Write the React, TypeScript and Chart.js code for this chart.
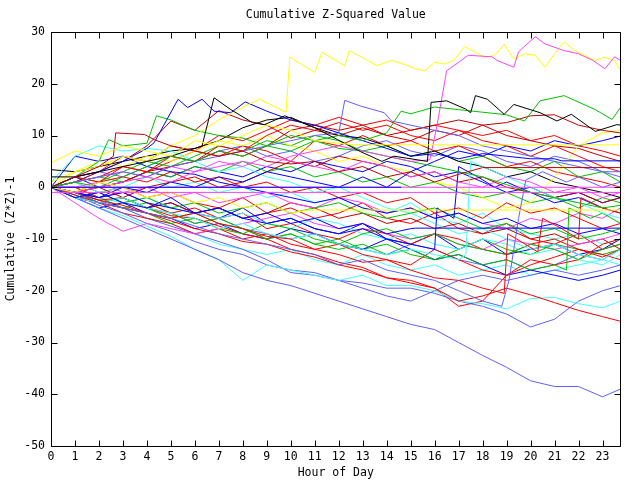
import React, { useEffect, useRef } from "react";
import { Chart, registerables } from "chart.js";

Chart.register(...registerables);

// ---------- axis / text ----------
const chartTitle = "Cumulative Z-Squared Value";
const xTitle = "Hour of Day";
const yTitle = "Cumulative (Z*Z)-1";
const xTickValues = [0, 1, 2, 3, 4, 5, 6, 7, 8, 9, 10, 11, 12, 13, 14, 15, 16, 17, 18, 19, 20, 21, 22, 23];
const yTickValues = [-50, -40, -30, -20, -10, 0, 10, 20, 30];
const xMin = 0;
const xMax = 23.75;
const yMin = -50;
const yMax = 30;

// shared hourly grid
const hours = [0, 1, 2, 3, 4, 5, 6, 7, 8, 9, 10, 11, 12, 13, 14, 15, 16, 17, 18, 19, 20, 21, 22, 23, 23.75];

// ---------- series with irregular sample times ----------
const yellowTopX = [0, 1, 2, 3, 4, 5, 6, 7, 8, 8.7, 9.8, 9.96, 11, 11.3, 12.25, 12.45, 13.6, 14.2, 14.6, 15.2, 15.6, 16, 16.4, 16.8, 17.25, 17.7, 18.1, 18.5, 18.9, 19.3, 19.75, 20.2, 20.6, 21, 21.4, 21.85, 22.25, 22.65, 23.1, 23.5, 23.75];
const yellowTopY = [1, 3, 4, 6, 5, 8, 10, 13, 15.5, 17, 14.5, 25.1, 22.2, 26.1, 23.5, 26.4, 23.5, 24.5, 24, 22.9, 22.5, 24.2, 23.8, 24.5, 27.2, 26.1, 25.1, 25.5, 27.6, 24.8, 25.8, 25.5, 23.2, 25.8, 28.1, 26.4, 25.5, 24.5, 25.1, 24.5, 22.5];

const magentaTopX = [0, 1, 2, 3, 4, 5, 6, 7, 8, 9, 10, 11, 12, 13, 14, 15, 15.8, 16.1, 16.5, 17.4, 18.4, 18.6, 19.3, 19.5, 20.2, 20.6, 21.4, 22, 22.6, 23.1, 23.5, 23.75];
const magentaTopY = [0, -1, 0, 1, 2, 1, 3, 4, 5, 4, 6, 7, 8, 7, 6, 5, 5.3, 12, 22.5, 25.5, 25.2, 24.5, 23.2, 26.2, 29.1, 27.7, 26.4, 25.8, 24.5, 22.9, 25.2, 24.5];

const blackTopX = [0, 1, 2, 3, 4, 5, 6, 6.3, 6.8, 7.5, 8.4, 8.9, 9.75, 11, 11.95, 12.9, 13.8, 14.3, 15.7, 15.85, 16.5, 17.3, 17.5, 17.7, 18.2, 18.9, 19.3, 20.4, 21.1, 21.7, 22.7, 23.6, 23.75];
const blackTopY = [2, 2, 3, 4, 5, 6, 7.5, 8, 17.3, 15, 12.5, 12.1, 13.8, 11.5, 9.2, 6.9, 5, 6, 5, 16.4, 16.7, 15.1, 14.4, 17.7, 17, 14.1, 16, 14.4, 12.8, 14.1, 10.8, 12.1, 12];

const blueHighX = [0, 1, 2, 3, 4, 4.3, 5.3, 5.7, 6.3, 6.8, 7.5, 8.1, 9, 10, 11, 12, 13, 14, 15, 16, 17, 18, 19, 20, 21, 21.3, 23.75];
const blueHighY = [0, 2, 3, 5, 7.5, 8.6, 17, 15.4, 17, 14.7, 14.4, 16.5, 14.7, 13, 12, 10.5, 9, 7.5, 6, 6.5, 5.5, 6.5, 6, 5.5, 5.5, 5.1, 5.1];

const greenTopX = [0, 1, 2, 3, 4, 5, 6, 7, 8, 9, 10, 11, 12, 13, 14, 14.6, 15, 16, 17, 18, 19, 19.75, 20.4, 21.4, 22.7, 23.4, 23.75];
const greenTopY = [0, 1, 0, 2, 4, 6, 5, 7, 6, 8, 7, 9, 10, 9, 10.5, 14.7, 14.2, 15.5, 15, 14.5, 14, 12.8, 16.7, 17.7, 15, 13.1, 15.4];

const greenEarlyX = [0, 1, 2, 2.4, 3, 4, 4.4, 5, 6, 7, 8, 9, 10, 11, 12, 13, 14, 15, 16, 17, 18, 19, 20, 21, 22, 23, 23.75];
const greenEarlyY = [0, 2, 5, 9.2, 8, 8.5, 13.8, 13, 11, 10, 9.5, 8, 10, 9, 7.5, 7, 6, 5, 4, 3, 2, 0.5, -1, -2, -3, -4, -3.5];

const darkRedFlatX = [0, 1, 2, 2.6, 2.7, 3.9, 4.3, 5, 6, 7, 8, 9, 10, 11, 12, 13, 14, 15, 16, 17, 18, 23.75];
const darkRedFlatY = [0, 2, 4, 6, 10.5, 10.2, 9.2, 8, 7, 6, 7, 5, 4.5, 5, 3, 4, 2, 3, 1, 2.5, 3.8, 3.8];

const slateHighX = [0, 1, 2, 3, 4, 5, 6, 7, 8, 9, 10, 11, 12, 12.25, 12.9, 13.9, 14.2, 15, 16, 17, 18, 19, 20, 21, 22, 23, 23.75];
const slateHighY = [0, 1, 2, 3, 2, 4, 5, 6, 7, 8, 9, 10, 10.5, 16.8, 15.7, 14.4, 12.8, 12, 11, 10, 8, 7, 6, 5, 4, 3, 3];

const slateJumpX = [0, 1, 2, 3, 4, 5, 6, 7, 8, 9, 10, 11, 12, 13, 14, 15, 16, 17, 18, 18.8, 19.1, 19.5, 19.8, 20.5, 21.5, 22, 23, 23.75];
const slateJumpY = [0, -1, -3, -4, -5, -6, -7.5, -9, -10, -11, -12, -13, -15, -14, -16, -17, -18, -20, -22, -23, -18, -6, 1.4, 3, 1, 2, 0, 1];

const redJumpX = [0, 1, 2, 3, 4, 5, 6, 7, 8, 9, 10, 11, 12, 13, 14, 15, 16, 17, 18, 18.9, 19.05, 19.6, 20.3, 20.5, 21.3, 22, 22.1, 23, 23.75];
const redJumpY = [0, -1, -2.5, -3.5, -5, -6, -5, -7, -8, -9.5, -10, -12, -13, -14.5, -14, -16, -17.5, -18, -19.5, -20.5, -9, -10.5, -12.5, -6, -8, -10, -2, -4, -5];
const blueJumpX = [0, 1, 2, 3, 4, 5, 6, 7, 8, 9, 10, 11, 12, 13, 14, 15, 16, 16.1, 16.8, 17, 17.8, 18.5, 19, 20, 21, 22, 23, 23.75];
const blueJumpY = [0, -1, -2, -1, -3, -4, -5, -4, -6, -7, -6, -8, -9, -8, -10, -11, -12, -4, -6, 4, 2, 0, 1, -1, -3, -2, -4, -5];
const cyanJumpX = [0, 1, 2, 3, 4, 5, 6, 7, 8, 9, 10, 11, 12, 13, 14, 15, 16, 17, 17.3, 17.5, 18, 19, 20, 21, 22, 23, 23.75];
const cyanJumpY = [0, -2, -3, -2, -4, -5, -6, -8, -7, -9, -10, -9, -11, -12, -13, -12, -13, -14, -13, 5, 4, 2, 0, -2, -3, -5, -6];
const greenJumpX = [0, 1, 2, 3, 4, 5, 6, 7, 8, 9, 10, 11, 12, 13, 14, 15, 16, 17, 18, 19, 20, 21, 21.5, 21.6, 22.5, 23, 23.75];
const greenJumpY = [0, -1, -3, -2, -4, -6, -5, -7, -8, -10, -9, -11, -12, -11, -13, -12, -14, -13, -15, -14, -16, -15, -16, -4, -6, -5, -7];

const blueZeroX = [0, 14.6];
const blueZeroY = [0, 0];
const magentaZeroX = [0, 23.75];
const magentaZeroY = [0, 0];
const magentaMinusOneX = [0, 23.75];
const magentaMinusOneY = [-1, -1];

const yellowFlatHighX = [0, 1, 2, 3, 4, 5, 6, 7, 8, 9, 10, 11, 12, 12.7, 23.75];
const yellowFlatHighY = [4.7, 7, 6, 8, 7, 6, 9, 8, 10, 12, 11, 9, 8.5, 8.2, 8.2];
const yellowFlatLowX = [0, 1, 2, 3, 4, 5, 6, 7, 8, 9, 10, 10.7, 23.75];
const yellowFlatLowY = [0, -1, 1, 0, -2, -1, -3, -2, -4, -3, -5, -4.4, -4.4];
const blueFlatX = [0, 1, 2, 3, 4, 5, 6, 7, 8, 9, 10, 11, 12, 13, 14, 15, 15.2, 23.75];
const blueFlatY = [0, -2, -1, -3, -4, -2, -5, -4, -6, -5, -7, -6, -8, -7, -9, -8, -7.9, -7.9];

// ---------- hourly series ----------
const slateLow = [0, -2, -4, -6, -8, -10, -12, -14, -16.5, -18, -19, -20.5, -22, -23.5, -25, -26.5, -27.5, -30, -32.5, -34.8, -37.4, -38.5, -38.5, -40.5, -39];
const slateB = [0, -1.5, -3.5, -5, -7, -8.5, -10.5, -12, -13, -15, -16, -16.5, -18, -18.5, -19.5, -19.5, -20.5, -22, -23, -24.5, -27, -25.5, -22, -20, -19];
const slateC = [0, -1, -2.5, -4, -6, -7.5, -9, -10.5, -12, -14, -16.5, -17, -18, -19.5, -21, -22, -20, -18, -17, -18, -17, -16, -17, -16, -15];
const cyanLow = [0, -2, -4, -5.5, -7.5, -9.5, -12, -14, -18, -15, -16, -17, -18, -17, -19, -19, -20, -22, -22.5, -23.5, -21.5, -21.3, -22.5, -23.3, -22];
const redLow = [0, -1.5, -3, -4, -5, -6.5, -8, -9, -10.5, -11, -12.5, -13.5, -15, -16, -17.5, -18.5, -19.5, -22, -21, -19.5, -20.8, -22.3, -23.8, -25, -25.9];
const redB = [0, -1, -2.5, -2, -4, -5.5, -6, -7.5, -9, -10, -12, -13, -14.5, -15.5, -17.5, -18, -19.5, -23, -22, -17, -15, -13.5, -12, -13.5, -12];
const cyanB = [1, 6, 8, 7, 7.5, 7, 5, 3, 4, 2, 1, -1, 0, -2, -4, -5, -7, -9, -8, -10, -12, -11, -13, -14, -12];
const cyanC = [0, -1, -2, -3, -2, -4, -5, -6, -5, -7, -8, -6, -7, -9, -10, -9, -11, -12, -10, -11, -13, -12, -14, -15, -13];
const redC = [0, 2, 1, 4, 3, 6, 5, 8, 7, 10, 12, 11, 12.5, 11, 12, 10, 9, 11, 9, 8, 6, 8, 6, 4, 3];
const redD = [0, -1, 1, 2, 1, 3, 1, 2, 0, 1, -1, 0, -2, -1, -3, -2, -5, -4, -6, -3, -5, -4, -6, -8, -7];
const redE = [0, -2, -3, -5, -6, -7, -9, -8, -10, -9, -11, -12, -11, -13, -14, -15, -12, -14, -16, -17, -14, -15, -14, -11, -10];
const redF = [0, 0, -2, -1, -3, -5, -4, -6, -5, -8, -7, -9, -10, -8, -9, -11, -9, -10, -12, -13, -11, -10, -12, -13, -14];
const redG = [0, 2, 3, 6, 5, 8, 7, 10, 9, 11, 13, 12, 13.5, 12, 13, 11, 12, 11, 10, 11, 9, 10, 8, 7, 6];
const redH = [0, 1, -1, 0, -2, -1, -3, -4, -2, -5, -4, -6, -5, -3, -6, -7, -5, -8, -9, -7, -10, -11, -9, -12, -11];
const redI = [0, 1, 2, 4, 3, 5, 7, 6, 8, 7, 5, 9, 8, 10, 8, 9, 7, 8, 6, 4, 5, 3, 2, 1, 0];
const greenC = [0, -1, -3, -4, -5, -7, -6, -8, -9, -7, -8, -10, -11, -9, -8, -10, -9, -11, -12, -13, -11, -12, -14, -12, -11];
const greenD = [0, -2, -1, -3, -2, -4, -3, -5, -4, -3, -5, -4, -3, -5, -6, -5, -4, -6, -8, -7, -9, -8, -10, -9, -8];
const greenE = [0, 1, 2, 1, 3, 2, 4, 3, 5, 3, 4, 2, 3, 1, 2, 0, 1, -1, -2, -1, -3, -2, -4, -2, -3];
const greenF = [0, 0, -2, -4, -3, -5, -7, -6, -8, -10, -9, -11, -10, -12, -11, -13, -14, -12, -10, -12, -13, -11, -12, -13, -12];
const greenG = [0, 2, 1, 3, 5, 4, 6, 8, 7, 9, 8, 10, 9, 7, 8, 6, 7, 5, 6, 4, 3, 5, 2, 3, 1];
const blueB = [0, 6, 5, 6, 4, 3, 2.5, 1, 0, -1, -2, -3, -2, -4, -5, -4, -6, -5, -7, -6, -8, -7, -9, -8, -9];
const blueE = [0, -1, -2, 0, -1, 1, 0, 2, 1, 3, 2, 1, 0, 2, 0, 3, 5, 7, 6, 8, 7, 9, 8, 9, 9.9];
const blueF = [0, -2, -4, -3, -5, -6, -8, -7, -9, -10, -8, -9, -11, -12, -10, -12, -14, -13, -15, -17, -16, -17, -18, -17, -16];
const blueG = [0, 2, 0, 1, 3, 2, 4, 3, 2, 4, 3, 5, 4, 3, 5, 4, 2, 3, 1, -1, 0, -2, -1, -3, -2];
const blueH = [0, -1, -3, -2, -4, -3, -5, -6, -4, -7, -6, -8, -9, -7, -10, -11, -9, -12, -10, -13, -12, -11, -13, -12, -10];
const magentaC = [0, -3, -6, -8.5, -7, -8, -9, -8, -7, -6, -5, -7, -8, -7, -9, -10, -9, -11, -12, -10, -11, -12, -11, -10, -9];
const magentaD = [0, 1, 2, 3, 2, 4, 3, 5, 4, 6, 5, 4, 3, 5, 4, 2, 3, 1, 0, 2, 1, -1, 0, -2, -1];
const magentaE = [0, 0, 1, -1, 0, -2, -1, -3, -2, -1, -3, -4, -2, -3, -5, -4, -6, -5, -7, -8, -6, -7, -5, -6, -4];
const yellowD = [0, 3, 5, 4, 6, 5, 7, 9, 8, 10, 8, 7, 5, 6, 4, 3, 1, 0, -2, -4, -3, 2, 8, 10.5, 11];
const cyanD = [0, 1, -1, 0, 2, 0, 1, -1, 0, -2, -1, -3, -2, -4, -5, -3, -6, -7, -5, -8, -9, -10, -9, -11, -10];
const cyanE = [0, -1.5, -3, -4, -6, -7, -9, -11, -12, -13, -12, -14, -15, -13, -15, -16, -15, -17, -16, -15, -17, -16, -15, -14, -15];
const darkRedB = [0, 1, 3, 5, 8, 12.8, 11, 14.8, 13, 12, 9.5, 11, 10, 11.5, 10, 9, 11, 10, 12, 10, 9, 8, 7.5, 6, 5];
const darkRedC = [0, -1, 0, 1, 3, 4, 5, 7, 6, 8, 11, 12, 11, 12, 10, 11, 12, 13, 12, 12.5, 13.8, 14, 12, 11, 10.5];
const darkRedD = [0, -1, 0, -2, 0, 1, 2, 0, 1, 3, 5, 4, 6, 5, 4, 2, 3, 1, 2, 0, -1, -2, -1, -3, -2];
const darkRedE = [0, -2, -3, -2, -4, -3, -5, -4, -6, -5, -3, -4, -6, -5, -7, -6, -8, -7, -9, -8, -10, -9, -11, -10, -12];
const blackB = [3.4, 3, 4, 5, 6, 7, 7.5, 9, 11.5, 13, 13.5, 11.5, 10, 9.5, 8, 6, 7, 5, 4, 2, 3, 1, 0, -1, -2];
const slateD = [0, -2, -3, -2, -4, -5, -7, -6, -8, -9, -10, -9, -11, -12, -13, -11, -12, -14, -15, -14, -16, -15, -13, -14, -12];
const slateE = [0, 1, 3, 2, 4, 6, 5, 7, 8, 6, 7, 5, 6, 8, 9, 7, 6, 8, 7, 5, 4, 6, 5, 3, 2];

// ---------- colours ----------
const RED = "#ff0000";
const GREEN = "#00c000";
const BLUE = "#0000ff";
const MAGENTA = "#ff40ff";
const CYAN = "#40ffff";
const YELLOW = "#ffff00";
const BLACK = "#000000";
const DARKRED = "#c00000";
const SLATE = "#6060ff";

const FONT_FAMILY = '"DejaVu Sans Mono", "Liberation Mono", monospace';
const FONT_SIZE = 11.5;

type Line = { xs: number[]; ys: number[]; color: string };

// first entries are drawn on top
const lines: Line[] = [
  { xs: blueZeroX, ys: blueZeroY, color: BLUE },
  { xs: magentaZeroX, ys: magentaZeroY, color: MAGENTA },
  { xs: magentaMinusOneX, ys: magentaMinusOneY, color: MAGENTA },
  { xs: yellowFlatHighX, ys: yellowFlatHighY, color: YELLOW },
  { xs: yellowFlatLowX, ys: yellowFlatLowY, color: YELLOW },
  { xs: blueFlatX, ys: blueFlatY, color: BLUE },
  { xs: darkRedFlatX, ys: darkRedFlatY, color: DARKRED },
  { xs: blackTopX, ys: blackTopY, color: BLACK },
  { xs: magentaTopX, ys: magentaTopY, color: MAGENTA },
  { xs: yellowTopX, ys: yellowTopY, color: YELLOW },
  { xs: greenTopX, ys: greenTopY, color: GREEN },
  { xs: blueHighX, ys: blueHighY, color: BLUE },
  { xs: greenEarlyX, ys: greenEarlyY, color: GREEN },
  { xs: slateHighX, ys: slateHighY, color: SLATE },
  { xs: slateJumpX, ys: slateJumpY, color: SLATE },
  { xs: redJumpX, ys: redJumpY, color: RED },
  { xs: blueJumpX, ys: blueJumpY, color: BLUE },
  { xs: cyanJumpX, ys: cyanJumpY, color: CYAN },
  { xs: greenJumpX, ys: greenJumpY, color: GREEN },
  { xs: hours, ys: redC, color: RED },
  { xs: hours, ys: darkRedC, color: DARKRED },
  { xs: hours, ys: greenD, color: GREEN },
  { xs: hours, ys: blueE, color: BLUE },
  { xs: hours, ys: magentaD, color: MAGENTA },
  { xs: hours, ys: cyanB, color: CYAN },
  { xs: hours, ys: yellowD, color: YELLOW },
  { xs: hours, ys: blackB, color: BLACK },
  { xs: hours, ys: darkRedB, color: DARKRED },
  { xs: hours, ys: slateLow, color: SLATE },
  { xs: hours, ys: redLow, color: RED },
  { xs: hours, ys: greenC, color: GREEN },
  { xs: hours, ys: blueB, color: BLUE },
  { xs: hours, ys: magentaC, color: MAGENTA },
  { xs: hours, ys: cyanLow, color: CYAN },
  { xs: hours, ys: redD, color: RED },
  { xs: hours, ys: darkRedD, color: DARKRED },
  { xs: hours, ys: slateB, color: SLATE },
  { xs: hours, ys: redB, color: RED },
  { xs: hours, ys: greenE, color: GREEN },
  { xs: hours, ys: blueF, color: BLUE },
  { xs: hours, ys: magentaE, color: MAGENTA },
  { xs: hours, ys: cyanC, color: CYAN },
  { xs: hours, ys: redE, color: RED },
  { xs: hours, ys: darkRedE, color: DARKRED },
  { xs: hours, ys: slateC, color: SLATE },
  { xs: hours, ys: redF, color: RED },
  { xs: hours, ys: greenF, color: GREEN },
  { xs: hours, ys: blueG, color: BLUE },
  { xs: hours, ys: cyanD, color: CYAN },
  { xs: hours, ys: redG, color: RED },
  { xs: hours, ys: slateD, color: SLATE },
  { xs: hours, ys: redH, color: RED },
  { xs: hours, ys: greenG, color: GREEN },
  { xs: hours, ys: blueH, color: BLUE },
  { xs: hours, ys: cyanE, color: CYAN },
  { xs: hours, ys: redI, color: RED },
  { xs: hours, ys: slateE, color: SLATE },
];

const framePlugin = {
  id: "gnuFrame",
  afterDatasetsDraw(chart: any) {
    const { ctx, chartArea } = chart;
    const { left, right, top, bottom } = chartArea;
    const xs = chart.scales.x;
    const ys = chart.scales.y;
    const L = Math.round(left) + 0.5;
    const R = Math.round(right) - 0.5;
    const T = Math.round(top) + 0.5;
    const B = Math.round(bottom) + 0.5;
    const tick = 6;
    ctx.save();
    ctx.strokeStyle = "#000";
    ctx.lineWidth = 1;
    ctx.beginPath();
    ctx.rect(L, T, R - L, B - T);
    for (const t of xs.ticks) {
      const px = Math.round(xs.getPixelForValue(t.value)) + 0.5;
      ctx.moveTo(px, B);
      ctx.lineTo(px, B - tick);
      ctx.moveTo(px, T);
      ctx.lineTo(px, T + tick);
    }
    for (const t of ys.ticks) {
      const py = Math.round(ys.getPixelForValue(t.value)) + 0.5;
      ctx.moveTo(L, py);
      ctx.lineTo(L + tick, py);
      ctx.moveTo(R, py);
      ctx.lineTo(R - tick, py);
    }
    ctx.stroke();
    ctx.fillStyle = "#000";
    ctx.font = `${FONT_SIZE}px ${FONT_FAMILY}`;
    ctx.textAlign = "center";
    ctx.textBaseline = "middle";
    ctx.fillText(chartTitle, (left + right) / 2, 15.5);
    ctx.restore();
  },
};

export default function App() {
  const canvasRef = useRef<HTMLCanvasElement | null>(null);

  useEffect(() => {
    document.body.style.margin = "0";
    const canvas = canvasRef.current;
    if (!canvas) return;
    const font = { family: FONT_FAMILY, size: FONT_SIZE, lineHeight: 1.2 };
    const datasets = lines.map((l) => ({
      data: l.xs.map((x, i) => ({ x, y: l.ys[i] })),
      borderColor: l.color,
      backgroundColor: l.color,
      borderWidth: 1,
      pointRadius: 0,
      tension: 0,
      fill: false,
    }));
    const chart = new Chart(canvas, {
      type: "line",
      data: { datasets },
      options: {
        responsive: false,
        animation: false,
        devicePixelRatio: 1,
        layout: { padding: { left: 0, right: 19.5, top: 32, bottom: 0 } },
        plugins: {
          legend: { display: false },
          tooltip: { enabled: false },
          title: { display: false },
        },
        scales: {
          x: {
            type: "linear",
            min: xMin,
            max: xMax,
            afterBuildTicks: (s: any) => {
              s.ticks = xTickValues.map((v) => ({ value: v }));
            },
            afterFit: (s: any) => {
              s.height = 34;
            },
            grid: { display: false, drawTicks: false },
            border: { display: false },
            ticks: {
              color: "#000",
              font,
              padding: 4,
              maxRotation: 0,
              autoSkip: false,
              callback: (v: any) => String(v),
            },
            title: {
              display: true,
              text: xTitle,
              color: "#000",
              font,
              padding: { top: 0, bottom: 0 },
            },
          },
          y: {
            type: "linear",
            min: yMin,
            max: yMax,
            afterBuildTicks: (s: any) => {
              s.ticks = yTickValues.map((v) => ({ value: v }));
            },
            afterFit: (s: any) => {
              s.width = 51;
            },
            grid: { display: false, drawTicks: false },
            border: { display: false },
            ticks: {
              color: "#000",
              font,
              padding: 6,
              autoSkip: false,
              callback: (v: any) => String(v),
            },
            title: {
              display: true,
              text: yTitle,
              color: "#000",
              font,
              padding: { top: 4, bottom: 0 },
            },
          },
        },
      },
      plugins: [framePlugin],
    } as any);
    return () => chart.destroy();
  }, []);

  return (
    <div style={{ width: 640, height: 480, background: "#fff" }}>
      <canvas ref={canvasRef} width={640} height={480} style={{ display: "block" }} />
    </div>
  );
}
